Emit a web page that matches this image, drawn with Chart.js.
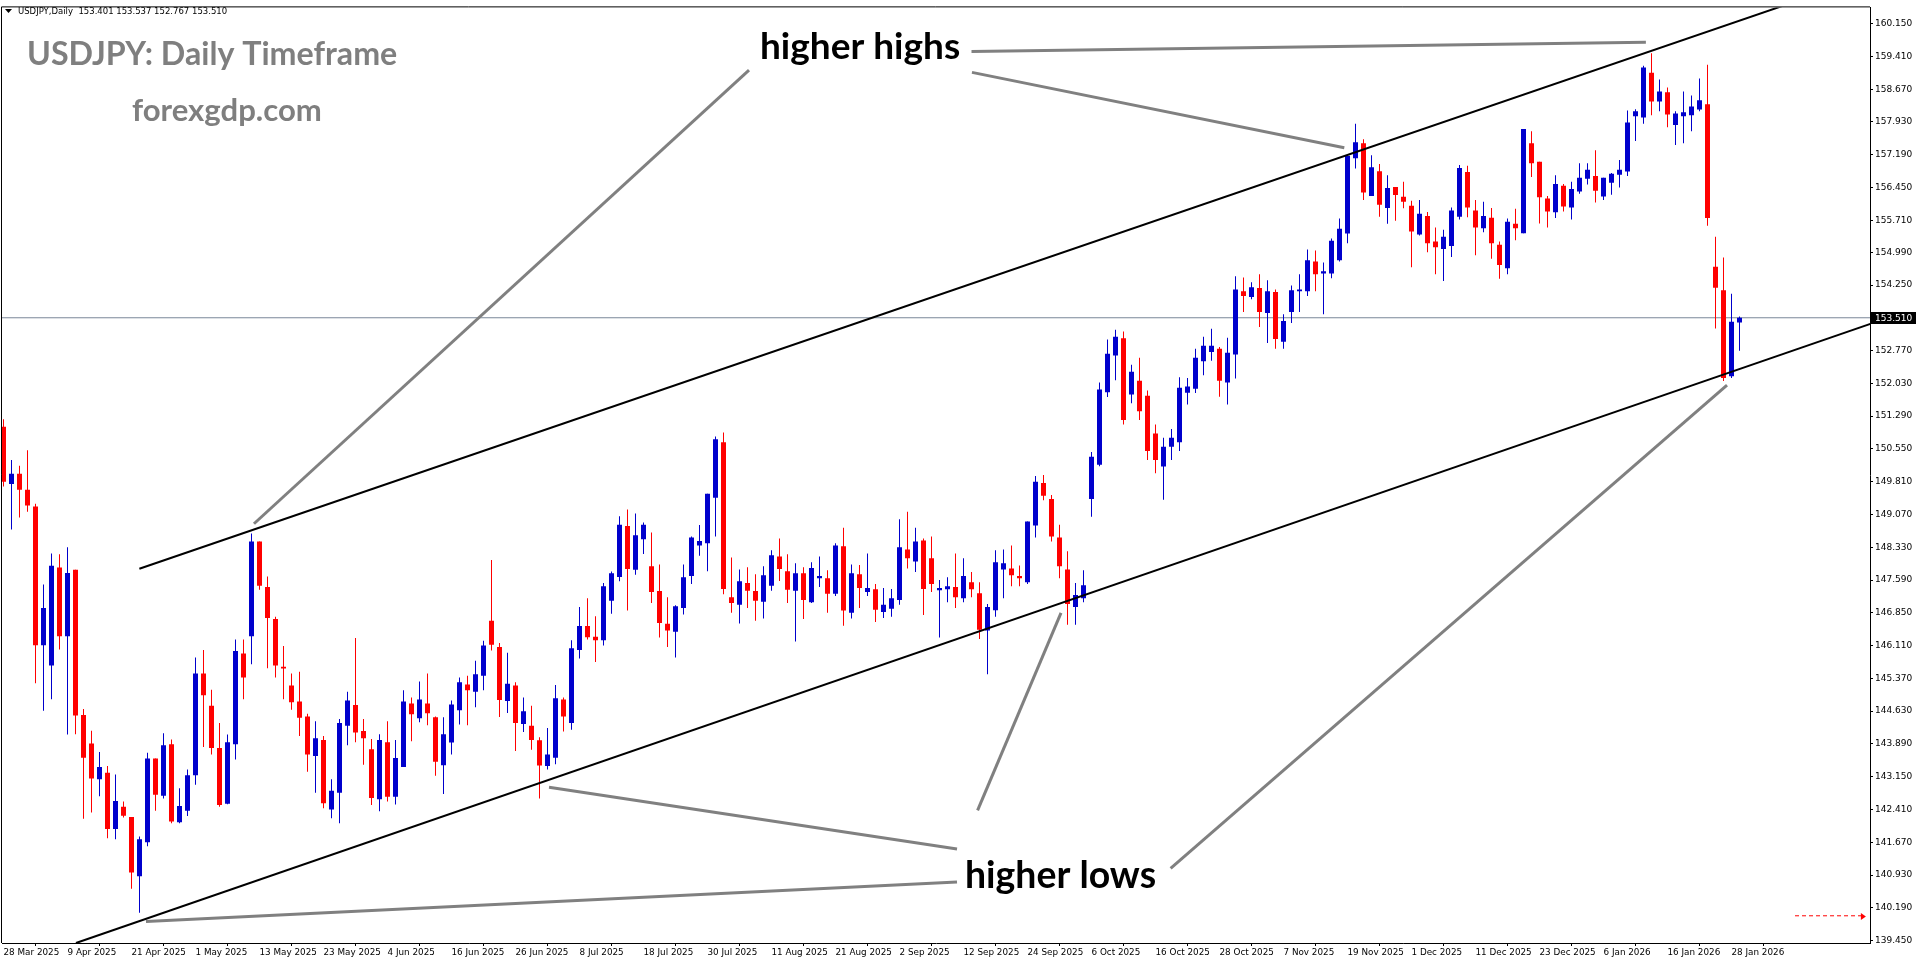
<!DOCTYPE html>
<html>
<head>
<meta charset="utf-8">
<title>USDJPY Daily</title>
<script src="https://cdn.jsdelivr.net/npm/chart.js@4.4.1/dist/chart.umd.min.js"></script>
<style>
  html, body { margin: 0; padding: 0; background: #fff; }
  #wrap { width: 1916px; height: 964px; }
</style>
</head>
<body>
<div id="wrap"><canvas id="chart" width="1916" height="964"></canvas></div>
<script>
// daily candles, 28 Mar 2025 .. 29 Jan 2026 (one value per bar)
const opens = [
  151.05,149.76,149.99,149.63,149.25,146.12,145.66,147.87,146.32,147.82,
  144.54,143.90,143.09,143.24,141.97,142.47,142.24,140.90,141.67,143.56,
  142.72,143.88,142.12,142.38,143.18,145.48,144.75,143.80,142.54,143.88,
  145.93,146.32,148.46,147.43,146.71,145.63,145.21,144.85,144.51,143.62,
  143.98,142.41,142.79,144.30,144.77,144.18,143.77,142.64,143.93,142.70,
  143.37,144.80,144.47,144.80,144.49,143.41,143.92,144.65,145.23,145.07,
  145.43,146.67,146.08,144.86,145.21,144.34,144.30,143.97,143.39,143.58,
  144.89,144.36,146.01,146.55,146.31,146.23,147.12,147.66,148.81,147.82,
  148.51,147.90,147.34,146.60,146.42,146.96,147.68,148.37,148.42,149.45,
  150.70,147.20,147.03,147.52,147.34,147.10,147.46,148.12,147.79,147.35,
  147.74,147.09,147.63,147.63,147.28,148.35,146.85,147.72,147.32,147.38,
  146.87,146.94,147.14,148.28,148.01,148.48,148.08,147.36,147.38,147.43,
  147.18,147.54,147.29,146.45,146.91,147.83,147.85,147.68,147.54,148.82,
  149.78,149.42,148.55,147.83,146.98,147.18,149.42,150.19,151.83,152.66,
  153.05,151.78,152.09,151.75,150.90,150.15,150.60,150.70,151.82,151.91,
  152.53,152.74,152.81,152.05,152.68,154.11,153.98,154.18,153.62,154.09,
  152.97,153.64,154.11,154.11,154.78,154.51,154.51,154.81,155.41,157.11,
  157.45,156.26,156.82,155.99,156.46,156.24,156.04,155.39,155.81,155.23,
  155.06,155.13,155.79,156.80,155.93,155.53,155.77,155.16,154.63,155.63,
  155.42,157.45,157.03,156.20,155.89,156.49,156.00,156.36,156.65,156.71,
  156.25,156.56,156.74,156.81,158.06,158.03,159.04,158.39,158.60,157.86,
  158.06,158.08,158.21,158.33,154.66,154.13,152.19,153.401
];
const highs = [
  151.22,150.30,150.17,150.52,149.31,147.49,148.19,148.17,148.33,147.82,
  144.68,144.19,143.71,143.39,143.20,142.59,142.24,141.80,143.69,143.56,
  144.13,143.99,142.89,143.31,145.84,146.01,145.11,144.36,144.10,146.25,
  146.25,148.64,148.46,147.67,146.76,146.10,145.48,145.52,144.57,144.40,
  144.07,143.09,144.45,145.07,146.28,144.45,144.00,144.11,144.40,143.98,
  145.10,144.94,145.30,145.48,144.51,144.49,144.87,145.39,145.43,145.77,
  146.22,148.04,146.17,145.95,145.28,144.94,144.75,144.04,144.25,145.22,
  144.94,146.23,146.98,147.18,146.77,147.52,147.78,149.03,149.18,149.09,
  148.89,148.66,147.94,147.20,147.02,147.94,148.57,148.83,149.54,150.83,
  150.92,148.10,147.83,147.88,147.72,147.90,148.26,148.53,148.17,147.97,
  147.88,147.99,148.12,147.81,148.42,148.77,147.94,147.93,148.19,147.50,
  147.41,147.39,148.96,149.13,148.77,148.53,148.57,147.59,147.65,148.19,
  148.08,147.77,147.54,147.05,148.26,148.28,148.37,147.92,148.91,149.94,
  149.96,149.51,148.84,148.24,147.52,147.81,150.48,152.05,153.02,153.24,
  153.20,152.45,152.61,151.87,151.10,150.80,151.00,152.17,152.15,152.81,
  153.08,153.26,152.85,153.06,154.45,154.42,154.31,154.49,154.36,154.15,
  153.59,154.24,154.49,155.05,155.03,154.76,155.30,155.75,157.17,157.89,
  157.54,157.18,156.98,156.73,156.46,156.58,156.15,156.17,155.90,155.55,
  155.50,156.00,156.96,156.94,156.17,156.13,155.99,155.23,155.75,155.97,
  157.77,157.72,157.03,156.26,156.73,156.53,156.58,157.00,157.00,157.29,
  156.67,156.78,157.07,158.19,158.22,159.20,159.48,158.89,158.71,158.17,
  158.62,158.53,158.91,159.22,155.34,154.87,154.05,153.537
];
const lows = [
  149.70,148.73,149.00,149.13,145.26,144.64,144.90,146.02,144.10,144.11,
  142.20,142.34,142.71,141.76,141.74,142.23,140.62,140.08,141.58,142.38,
  142.66,142.10,142.10,142.26,142.97,143.82,143.65,142.47,142.53,143.54,
  144.90,145.69,147.37,145.60,145.39,144.90,144.66,144.07,143.26,142.79,
  142.44,142.21,142.10,143.86,143.93,143.42,142.51,142.37,142.59,142.52,
  143.37,143.95,144.38,144.31,143.17,142.76,143.65,144.33,144.31,144.72,
  145.10,146.00,144.50,144.59,143.73,144.16,143.76,142.66,143.31,143.43,
  144.17,144.21,145.82,146.25,145.74,146.11,146.83,147.56,146.90,147.71,
  148.18,147.07,146.29,146.08,145.84,146.81,147.50,148.14,147.79,148.57,
  147.27,146.85,146.61,146.96,146.67,146.72,147.35,147.57,147.07,146.20,
  146.71,147.07,147.43,146.85,147.23,146.56,146.72,146.96,147.23,146.64,
  146.73,146.76,147.03,147.85,147.77,146.80,147.32,146.29,147.09,146.96,
  147.09,147.20,146.26,145.46,146.76,147.18,147.45,147.45,147.50,148.55,
  149.39,148.46,147.63,146.58,146.58,147.09,149.02,150.16,151.72,152.10,
  151.10,151.58,151.20,150.30,150.00,149.40,150.30,150.50,151.55,151.81,
  152.21,152.54,151.73,151.55,152.14,153.64,153.93,153.30,152.94,152.81,
  152.81,153.39,153.64,154.00,154.11,153.59,154.40,154.78,155.19,156.88,
  156.17,156.26,155.79,155.63,155.70,155.98,154.65,155.37,154.99,154.49,
  154.34,154.88,155.73,155.78,154.92,155.44,154.84,154.39,154.49,155.26,
  155.42,156.69,155.64,155.55,155.76,155.91,155.73,156.31,156.52,156.11,
  156.17,156.29,156.45,156.71,157.50,157.89,158.08,158.17,157.81,157.41,
  157.45,157.72,158.17,155.59,153.27,152.08,152.15,152.767
];
const closes = [
  149.81,149.99,149.63,149.27,146.12,146.96,147.91,146.32,147.75,144.53,
  143.58,143.11,143.37,141.97,142.60,142.27,140.99,141.74,143.56,142.74,
  143.86,142.14,142.49,143.18,145.48,144.99,143.80,142.51,143.93,145.99,
  145.39,148.46,147.46,146.73,145.66,145.59,144.83,144.48,143.65,144.02,
  142.55,142.83,144.36,144.87,144.15,144.02,142.67,143.98,142.70,143.57,
  144.85,144.56,144.89,144.58,143.49,144.11,144.78,145.28,145.10,145.46,
  146.11,146.13,144.88,145.25,144.36,144.63,143.98,143.40,143.65,144.92,
  144.51,146.05,146.55,146.30,146.23,147.45,147.74,148.84,147.84,148.60,
  148.84,147.32,146.62,146.45,147.00,147.65,148.55,148.47,149.54,150.77,
  147.39,147.07,147.56,147.35,147.12,147.70,148.15,147.84,147.37,147.74,
  147.14,147.86,147.68,147.28,148.37,146.90,147.74,147.41,147.41,146.92,
  147.03,147.18,148.33,148.08,148.46,147.39,147.50,147.41,147.45,147.20,
  147.68,147.38,146.47,146.98,147.99,147.97,147.70,147.63,148.91,149.81,
  149.49,148.57,147.90,147.05,147.25,147.47,150.37,151.89,152.70,153.08,
  151.20,152.29,151.40,150.50,150.30,150.60,150.80,151.93,151.96,152.61,
  152.88,152.88,152.09,152.72,154.15,154.00,154.20,153.64,154.11,153.03,
  153.44,154.13,154.15,154.81,154.49,154.56,155.25,155.52,157.17,157.47,
  156.34,156.91,156.06,156.44,156.28,156.13,155.46,155.86,155.19,155.10,
  155.34,155.93,156.89,156.00,155.55,155.81,155.19,154.70,155.68,155.53,
  157.77,157.00,156.23,155.91,156.53,156.02,156.42,156.67,156.85,156.38,
  156.67,156.76,156.85,157.92,158.17,159.16,158.39,158.62,158.10,158.12,
  158.15,158.28,158.42,155.76,154.19,152.15,153.42,153.510
];

// date labels under the chart, one every 8 bars
const dateLabels = [
  '28 Mar 2025','9 Apr 2025','21 Apr 2025','1 May 2025','13 May 2025','23 May 2025',
  '4 Jun 2025','16 Jun 2025','26 Jun 2025','8 Jul 2025','18 Jul 2025','30 Jul 2025',
  '11 Aug 2025','21 Aug 2025','2 Sep 2025','12 Sep 2025','24 Sep 2025','6 Oct 2025',
  '16 Oct 2025','28 Oct 2025','7 Nov 2025','19 Nov 2025','1 Dec 2025','11 Dec 2025',
  '23 Dec 2025','6 Jan 2026','16 Jan 2026','28 Jan 2026'
];
const labelStep = 8;

// price scale labels
const priceTicks = [
  160.150,159.410,158.670,157.930,157.190,156.450,155.710,154.990,154.250,153.510,
  152.770,152.030,151.290,150.550,149.810,149.070,148.330,147.590,146.850,146.110,
  145.370,144.630,143.890,143.150,142.410,141.670,140.930,140.190,139.450
];

// trend lines drawn on the chart, [bar, price] end points
const upperChannel = [[16.98, 147.844], [233.5, 161.238]];
const lowerChannel = [[9.06, 139.395], [233.5, 153.38]];
const highsArrows = [
  [[121.0, 159.52], [205.3, 159.73]],
  [[121.06, 159.05], [167.6, 157.35]],
  [[93.19, 159.10], [31.31, 148.86]]
];
const lowsArrows = [
  [[68.19, 142.91], [119.19, 141.52]],
  [[17.81, 139.88], [119.19, 140.77]],
  [[121.76, 142.39], [132.19, 146.85]],
  [[145.89, 141.08], [215.44, 151.99]]
];
const stopLevel = 140.01;

const BLUE = '#0000cc';
const RED = '#ff0000';

const lastClose = closes[closes.length - 1];
const xMin = -0.1875, xMax = 233.3125;
const yMax = 160.5168, yMin = 139.3957;

const candleColors = closes.map((c, i) => c >= opens[i] ? BLUE : RED);
const wickData = highs.map((h, i) => ({x: i, y: [lows[i], h]}));
const bodyData = opens.map((o, i) => ({x: i, y: [o, closes[i]]}));

function toPoints(pair) {
  return pair.map(p => ({x: p[0], y: p[1]}));
}

function lineSet(pair, color, width) {
  return {
    type: 'line',
    data: toPoints(pair),
    borderColor: color,
    borderWidth: width,
    pointRadius: 0,
    fill: false,
    order: 0
  };
}

const datasets = [
  {
    type: 'line',
    data: [{x: xMin, y: lastClose}, {x: xMax, y: lastClose}],
    borderColor: '#7a8799',
    borderWidth: 1,
    pointRadius: 0,
    order: 30
  },
  {
    data: wickData,
    backgroundColor: candleColors,
    barThickness: 1,
    grouped: false,
    inflateAmount: 0,
    order: 20
  },
  {
    data: bodyData,
    backgroundColor: candleColors,
    barThickness: 5,
    minBarLength: 1,
    grouped: false,
    inflateAmount: 0,
    order: 10
  },
  lineSet(upperChannel, '#000', 2),
  lineSet(lowerChannel, '#000', 2)
];
highsArrows.concat(lowsArrows).forEach(a => datasets.push(lineSet(a, '#808080', 3)));
datasets.push({
  type: 'line',
  data: [{x: 223.94, y: stopLevel}, {x: 232.3, y: stopLevel}],
  borderColor: RED,
  borderWidth: 1,
  borderDash: [4, 3],
  pointRadius: 0,
  order: 0
});

function fitFont(ctx, text, weight, family, width) {
  ctx.font = weight + ' 100px ' + family;
  const size = 100 * width / ctx.measureText(text).width;
  return weight + ' ' + size.toFixed(1) + 'px ' + family;
}

const overlay = {
  id: 'overlay',
  beforeDatasetsDraw(chart) {
    const {ctx, chartArea} = chart;
    ctx.save();
    ctx.strokeStyle = '#000';
    ctx.lineWidth = 1;
    ctx.beginPath();
    ctx.moveTo(chartArea.left - 0.5, chartArea.bottom);
    ctx.lineTo(chartArea.left - 0.5, chartArea.top - 0.5);
    ctx.lineTo(chartArea.right, chartArea.top - 0.5);
    ctx.stroke();
    ctx.restore();
  },
  afterDraw(chart) {
    const {ctx, chartArea} = chart;
    const xs = chart.scales.x, ys = chart.scales.y;
    ctx.save();

    // arrow head of the dashed stop line
    const ax = xs.getPixelForValue(232.8), ay = Math.round(ys.getPixelForValue(stopLevel)) + 0.5;
    ctx.fillStyle = RED;
    ctx.beginPath();
    ctx.moveTo(ax, ay);
    ctx.lineTo(ax - 5, ay - 3.5);
    ctx.lineTo(ax - 5, ay + 3.5);
    ctx.closePath();
    ctx.fill();

    // current price box
    const py = Math.floor(ys.getPixelForValue(lastClose));
    ctx.fillStyle = '#000';
    ctx.fillRect(chartArea.right + 1, py - 5, 46, 12);
    ctx.fillStyle = '#fff';
    ctx.font = '9px "DejaVu Sans"';
    ctx.textBaseline = 'middle';
    ctx.textAlign = 'left';
    ctx.fillText(lastClose.toFixed(3), chartArea.right + 5, py + 1.5);

    // symbol line at top left
    ctx.fillStyle = '#000';
    ctx.beginPath();
    ctx.moveTo(5, 9); ctx.lineTo(12, 9); ctx.lineTo(8.5, 13);
    ctx.closePath();
    ctx.fill();
    ctx.textBaseline = 'alphabetic';
    const info = 'USDJPY,Daily  ' + [opens, highs, lows, closes]
      .map(a => a[a.length - 1].toFixed(3)).join(' ');
    ctx.font = fitFont(ctx, info, 'normal', '"DejaVu Sans"', 208);
    ctx.fillText(info, 18, 14);

    // captions
    const notes = [
      {text: 'USDJPY: Daily Timeframe', x: 27, y: 65, w: 371, color: '#7f7f7f'},
      {text: 'forexgdp.com', x: 132, y: 121, w: 190, color: '#7f7f7f'},
      {text: 'higher highs', x: 760, y: 59, w: 200, color: '#000'},
      {text: 'higher lows', x: 965, y: 888, w: 191, color: '#000'}
    ];
    notes.forEach(n => {
      ctx.font = fitFont(ctx, n.text, 'bold', 'Lato', n.w);
      ctx.fillStyle = n.color;
      ctx.fillText(n.text, n.x, n.y);
    });
    ctx.restore();
  }
};

new Chart(document.getElementById('chart').getContext('2d'), {
  type: 'bar',
  data: {datasets: datasets},
  options: {
    responsive: false,
    animation: false,
    devicePixelRatio: 1,
    events: [],
    layout: {padding: {left: 2, top: 1, right: 0, bottom: 0}},
    plugins: {legend: {display: false}, tooltip: {enabled: false}},
    scales: {
      x: {
        type: 'linear',
        min: xMin,
        max: xMax,
        offset: false,
        afterBuildTicks: axis => {
          axis.ticks = dateLabels.map((_, k) => ({value: k * labelStep}));
        },
        afterFit: axis => { axis.height = 21; },
        ticks: {
          autoSkip: false,
          maxRotation: 0,
          minRotation: 0,
          align: 'start',
          padding: 1,
          color: '#000',
          font: {family: 'DejaVu Sans', size: 8.8},
          callback: v => dateLabels[Math.round(v / labelStep)] || ''
        },
        grid: {drawOnChartArea: false, drawTicks: true, tickLength: 3, color: '#000'},
        border: {display: true, color: '#000'}
      },
      y: {
        position: 'right',
        min: yMin,
        max: yMax,
        afterBuildTicks: axis => {
          axis.ticks = priceTicks.map(v => ({value: v}));
        },
        afterFit: axis => { axis.width = 46; },
        ticks: {
          autoSkip: false,
          padding: 2,
          color: '#000',
          font: {family: 'DejaVu Sans', size: 9},
          callback: v => v.toFixed(3)
        },
        grid: {drawOnChartArea: false, drawTicks: true, tickLength: 3, color: '#000'},
        border: {display: true, color: '#000'}
      }
    }
  },
  plugins: [overlay]
});
</script>
</body>
</html>
